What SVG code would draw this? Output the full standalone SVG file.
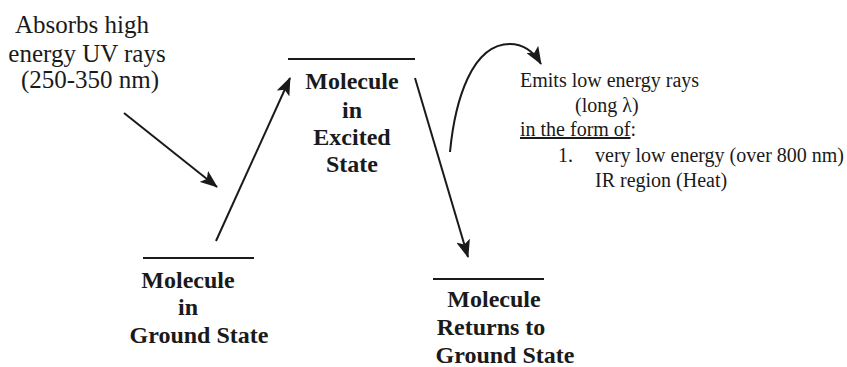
<svg xmlns="http://www.w3.org/2000/svg" width="847" height="367" viewBox="0 0 847 367">
<defs>
<style>
text{font-family:'Liberation Serif','Times New Roman',serif;fill:#1a1a1a}
.n{font-size:25px;text-anchor:middle}
.b{font-size:24px;font-weight:bold;text-anchor:middle}
.s{font-size:20px}
.lvl{stroke:#1a1a1a;stroke-width:2}
.c{stroke:#1a1a1a;stroke-width:2;fill:none}
</style>
<marker id="ah" markerUnits="userSpaceOnUse" markerWidth="18" markerHeight="14" viewBox="0 0 18 14" refX="17" refY="7" orient="auto">
<path d="M0,0 L18,7 L0,14 L4,7 Z" fill="#1a1a1a"/>
</marker>
</defs>
<rect width="847" height="367" fill="#fff"/>
<g id="uv-label">
<text class="n" x="82" y="33">Absorbs high</text>
<text class="n" x="87" y="62">energy UV rays</text>
<text class="n" x="90" y="88">(250-350 nm)</text>
</g>
<g id="excited">
<line class="lvl" x1="288" y1="59" x2="415" y2="59"/>
<text class="b" x="352" y="89">Molecule</text>
<text class="b" x="352" y="118">in</text>
<text class="b" x="352" y="145">Excited</text>
<text class="b" x="352" y="172">State</text>
</g>
<g id="ground">
<line class="lvl" x1="143" y1="258" x2="254" y2="258"/>
<text class="b" x="188" y="288">Molecule</text>
<text class="b" x="188" y="315">in</text>
<text class="b" x="199" y="343">Ground State</text>
</g>
<g id="returned">
<line class="lvl" x1="433" y1="279" x2="544" y2="279"/>
<text class="b" x="494" y="307">Molecule</text>
<text class="b" x="491" y="335">Returns to</text>
<text class="b" x="505" y="363">Ground State</text>
</g>
<g id="emits-label">
<text class="s" x="520" y="87">Emits low energy rays</text>
<text class="s" x="575" y="112">(long λ)</text>
<text class="s" x="520" y="136"><tspan text-decoration="underline">in the form of</tspan>:</text>
<text class="s" x="558" y="162">1.</text>
<text class="s" x="595" y="162">very low energy (over 800 nm)</text>
<text class="s" x="595" y="187">IR region (Heat)</text>
</g>
<g id="connectors">
<line class="c" x1="124" y1="113" x2="217" y2="187" marker-end="url(#ah)"/>
<line class="c" x1="216" y1="241" x2="290" y2="78" marker-end="url(#ah)"/>
<line class="c" x1="415" y1="78" x2="468" y2="257" marker-end="url(#ah)"/>
<path class="c" d="M450,152 C455,100 472,44 510,44 C525,44 535,54 541,64" marker-end="url(#ah)"/>
</g>
</svg>
